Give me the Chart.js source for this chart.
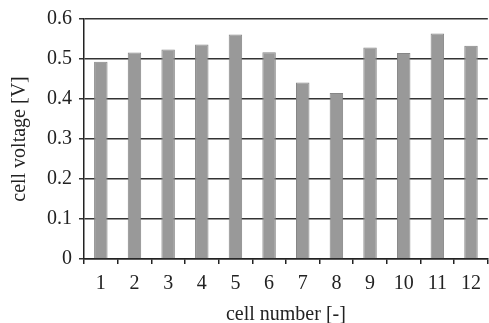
<!DOCTYPE html>
<html>
<head>
<meta charset="utf-8">
<script src="https://cdn.jsdelivr.net/npm/chart.js@4"></script>
<style>
  html, body { margin: 0; padding: 0; background: #fff; }
  #wrap { width: 489px; height: 323px; }
</style>
</head>
<body>
<div id="wrap"><canvas id="myChart_cells"></canvas></div>
<script>
const celulas = ['1', '2', '3', '4', '5', '6', '7', '8', '9', '10', '11', '12'];
const tensoes = [0.493, 0.516, 0.524, 0.536, 0.561, 0.517, 0.441, 0.415, 0.529, 0.515, 0.564, 0.533];
const ticksY = [0, 0.1, 0.2, 0.3, 0.4, 0.5, 0.6];

const fonte = 'Liberation Serif';

const ctx = document.getElementById('myChart_cells');

new Chart(ctx, {
    type: 'bar',
    data: {
        labels: celulas,
        datasets: [{
            data: tensoes,
            backgroundColor: '#999999',
            borderColor: '#868686',
            borderWidth: 1,
            categoryPercentage: 0.4,
            barPercentage: 1
        }]
    },
    options: {
        responsive: true,
        maintainAspectRatio: false,
        animation: false,
        layout: { padding: { top: 18, right: 0, left: 0, bottom: 0 } },
        plugins: {
            legend: { display: false },
            tooltip: { enabled: false }
        },
        scales: {
            x: {
                offset: true,
                grid: {
                    offset: true,
                    drawOnChartArea: false,
                    drawTicks: true,
                    tickLength: 5,
                    color: '#222',
                    lineWidth: 1.5
                },
                border: { color: '#222', width: 1.5 },
                ticks: {
                    color: '#222',
                    font: { family: fonte, size: 20 },
                    padding: 8,
                    maxRotation: 0
                },
                title: {
                    display: true,
                    text: 'cell number [-]',
                    color: '#222',
                    font: { family: fonte, size: 20, lineHeight: 0.8 },
                    padding: { top: 2, bottom: 0 }
                },
                afterFit: function (scale) { scale.height = 64; }
            },
            y: {
                min: 0,
                max: 0.6,
                afterBuildTicks: function (scale) {
                    scale.ticks = ticksY.map(function (v) { return { value: v }; });
                },
                grid: {
                    color: '#333',
                    lineWidth: 1.5,
                    tickLength: 5
                },
                border: { color: '#222', width: 1.5 },
                ticks: {
                    color: '#222',
                    font: { family: fonte, size: 20 },
                    padding: 7,
                    callback: function (v) { return String(Math.round(v * 10) / 10); }
                },
                title: {
                    display: true,
                    text: 'cell voltage [V]',
                    color: '#222',
                    font: { family: fonte, size: 20 },
                    padding: { top: 8, bottom: 0 }
                },
                afterFit: function (scale) { scale.width = 84; }
            }
        }
    }
});
</script>
</body>
</html>
